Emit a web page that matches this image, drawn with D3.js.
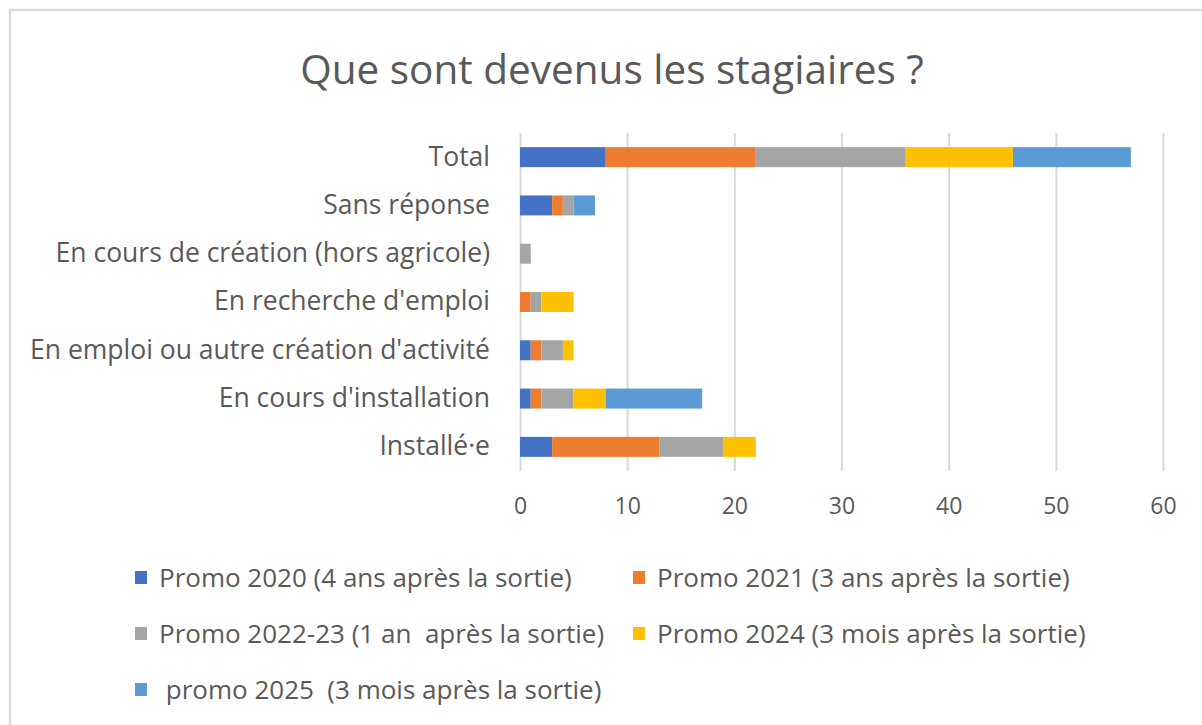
<!DOCTYPE html>
<html>
<head>
<meta charset="utf-8">
<script src="https://cdn.jsdelivr.net/npm/d3@7"></script>
<style>
  body { margin: 0; background: #fff; }
  text { font-family: "Open Sans", sans-serif; fill: #595959; }
</style>
</head>
<body>
<svg width="1202" height="725"></svg>
<script>
var categories = ["Total", "Sans réponse", "En cours de création (hors agricole)", "En recherche d'emploi",
                  "En emploi ou autre création d'activité", "En cours d'installation", "Installé·e"];
var seriesNames = ["Promo 2020 (4 ans après la sortie)", "Promo 2021 (3 ans après la sortie)",
                   "Promo 2022-23 (1 an  après la sortie)", "Promo 2024 (3 mois après la sortie)",
                   " promo 2025  (3 mois après la sortie)"];
var promo2020 = [8, 3, 0, 0, 1, 1, 3],
    promo2021 = [14, 1, 0, 1, 1, 1, 10],
    promo2022 = [14, 1, 1, 1, 2, 3, 6],
    promo2024 = [10, 0, 0, 3, 1, 3, 3],
    promo2025 = [11, 2, 0, 0, 0, 9, 0];
var xTicks = [0, 10, 20, 30, 40, 50, 60];
var colors = ["#4472c4", "#ed7d31", "#a5a5a5", "#ffc000", "#5b9bd5"];

var svg = d3.select("svg");

// frame
svg.append("rect")
  .attr("x", 10).attr("y", 10).attr("width", 1200).attr("height", 720)
  .attr("fill", "none").attr("stroke", "#d9d9d9").attr("stroke-width", 2.5);

svg.append("text")
  .attr("x", 612).attr("y", 84)
  .attr("text-anchor", "middle")
  .style("font-size", "40.5px")
  .text("Que sont devenus les stagiaires ?");

var keys = ["p2020", "p2021", "p2022", "p2024", "p2025"];
var rows = categories.map(function(c, i) {
  return {cat: c, p2020: promo2020[i], p2021: promo2021[i], p2022: promo2022[i], p2024: promo2024[i], p2025: promo2025[i]};
});
var stacked = d3.stack().keys(keys)(rows);

var x = d3.scaleLinear().domain([0, 60]).range([520, 1163]);
var y = d3.scaleBand().domain(categories).range([133, 471]).paddingInner(0.586).paddingOuter(0.293);

// gridlines
svg.append("g")
  .attr("transform", "translate(0,471)")
  .call(d3.axisBottom(x).tickValues(xTicks).tickSize(-338).tickFormat(""))
  .call(function(g) {
    g.select(".domain").remove();
    g.selectAll("line").attr("stroke", "#d9d9d9").attr("stroke-width", 2);
  });

svg.append("g")
  .selectAll("g")
  .data(stacked)
  .enter().append("g")
    .attr("fill", function(d, i) { return colors[i]; })
  .selectAll("rect")
  .data(function(d) { return d; })
  .enter().append("rect")
    .attr("x", function(d) { return x(d[0]); })
    .attr("y", function(d) { return y(d.data.cat); })
    .attr("width", function(d) { return x(d[1]) - x(d[0]); })
    .attr("height", y.bandwidth());

// x axis labels
svg.append("g")
  .attr("transform", "translate(0,471)")
  .call(d3.axisBottom(x).tickValues(xTicks).tickSize(0).tickPadding(27))
  .call(function(g) {
    g.select(".domain").remove();
    g.selectAll("text").style("font-size", "23px").attr("fill", "#595959").style("font-family", "Open Sans, sans-serif");
  });

// category labels
svg.append("g")
  .attr("transform", "translate(510,0)")
  .call(d3.axisLeft(y).tickSize(0).tickPadding(20))
  .call(function(g) {
    g.select(".domain").remove();
    g.selectAll("text").style("font-size", "26.5px").attr("fill", "#595959").style("font-family", "Open Sans, sans-serif");
  });

// legend
var legendPos = [[135, 578], [633, 578], [135, 634], [633, 634], [135, 690]];
var legend = svg.append("g").selectAll("g")
  .data(seriesNames)
  .enter().append("g")
    .attr("transform", function(d, i) { return "translate(" + legendPos[i][0] + "," + legendPos[i][1] + ")"; });
legend.append("rect")
  .attr("x", 0).attr("y", -7).attr("width", 12).attr("height", 13)
  .attr("fill", function(d, i) { return colors[i]; });
legend.append("text")
  .attr("x", 24).attr("dy", "0.35em")
  .style("font-size", "26px")
  .style("white-space", "pre")
  .attr("xml:space", "preserve")
  .text(function(d) { return d; });
</script>
</body>
</html>
